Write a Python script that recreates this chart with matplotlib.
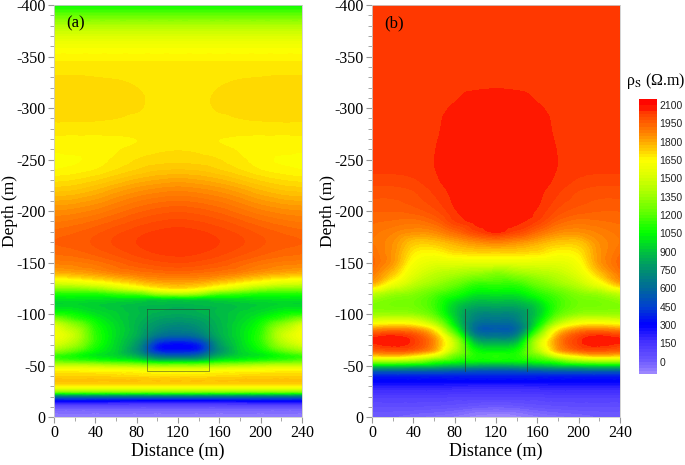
import numpy as np
import matplotlib.pyplot as plt
import matplotlib.tri as mtri
from matplotlib.colors import LinearSegmentedColormap

# half profile, mirrored about x = 120 m
x_half = [0, 20, 40, 60, 80, 100, 120]

# rho_s (Ohm.m) at each depth, columns at x_half
depth_a = [0, -5, -10, -15, -20, -25, -30, -35, -40, -45, -50, -55, -60, -65, -70, -75,
           -80, -90, -95, -100, -110, -115, -120, -125, -130, -140, -150, -160, -170,
           -180, -200, -220, -230, -240, -250, -260, -265, -270, -280, -290, -300, -310,
           -320, -330, -340, -345, -350, -360, -370, -380, -390, -400]
rho_a = [
    [-80, -80, -80, -80, -80, -80, -80],
    [-40, -40, -40, -40, -40, -40, -40],
    [30, 30, 30, 30, 30, 30, 30],
    [250, 250, 250, 240, 230, 220, 220],
    [600, 600, 600, 600, 600, 600, 600],
    [1300, 1300, 1300, 1300, 1300, 1300, 1300],
    [1650, 1650, 1650, 1650, 1650, 1650, 1650],
    [1750, 1750, 1750, 1750, 1750, 1750, 1750],
    [1720, 1720, 1720, 1710, 1700, 1690, 1690],
    [1650, 1650, 1640, 1630, 1620, 1600, 1600],
    [1450, 1450, 1420, 1380, 1350, 1300, 1300],
    [1200, 1150, 1100, 1050, 1000, 880, 860],
    [1150, 1080, 1000, 940, 820, 580, 520],
    [1350, 1220, 1050, 940, 740, 380, 340],
    [1500, 1350, 1100, 950, 760, 370, 310],
    [1580, 1420, 1130, 960, 800, 500, 430],
    [1620, 1450, 1130, 970, 840, 650, 600],
    [1500, 1300, 1080, 960, 860, 760, 720],
    [1300, 1150, 1030, 940, 870, 800, 780],
    [1100, 1050, 980, 930, 880, 840, 820],
    [950, 950, 930, 910, 890, 880, 870],
    [1000, 1000, 990, 980, 970, 960, 960],
    [1100, 1100, 1100, 1150, 1200, 1350, 1400],
    [1300, 1300, 1350, 1450, 1550, 1650, 1700],
    [1500, 1520, 1580, 1650, 1720, 1780, 1800],
    [1780, 1800, 1830, 1870, 1900, 1920, 1930],
    [1880, 1890, 1910, 1940, 1970, 1990, 2000],
    [1930, 1940, 1960, 1985, 2010, 2028, 2035],
    [1950, 1960, 1980, 2005, 2025, 2040, 2048],
    [1930, 1945, 1965, 1990, 2012, 2028, 2035],
    [1850, 1860, 1880, 1910, 1940, 1960, 1970],
    [1740, 1750, 1775, 1810, 1840, 1860, 1870],
    [1690, 1700, 1720, 1750, 1780, 1800, 1810],
    [1650, 1660, 1675, 1700, 1725, 1745, 1750],
    [1640, 1645, 1662, 1680, 1700, 1710, 1715],
    [1655, 1660, 1664, 1672, 1685, 1695, 1698],
    [1663, 1665, 1667, 1670, 1676, 1690, 1693],
    [1668, 1668, 1668, 1670, 1675, 1688, 1690],
    [1688, 1688, 1688, 1688, 1688, 1688, 1688],
    [1705, 1705, 1703, 1700, 1695, 1690, 1688],
    [1712, 1712, 1710, 1707, 1703, 1692, 1688],
    [1715, 1715, 1713, 1710, 1705, 1692, 1688],
    [1712, 1712, 1710, 1706, 1700, 1690, 1688],
    [1702, 1702, 1700, 1698, 1694, 1689, 1688],
    [1688, 1688, 1688, 1688, 1688, 1688, 1688],
    [1675, 1675, 1675, 1675, 1675, 1675, 1675],
    [1660, 1660, 1660, 1660, 1660, 1660, 1660],
    [1610, 1610, 1610, 1610, 1610, 1610, 1610],
    [1520, 1520, 1520, 1520, 1520, 1520, 1520],
    [1400, 1400, 1400, 1400, 1400, 1400, 1400],
    [1230, 1230, 1230, 1230, 1230, 1230, 1230],
    [1060, 1060, 1060, 1060, 1060, 1060, 1060],
]

depth_b = [0, -5, -10, -20, -30, -35, -40, -45, -50, -55, -60, -65, -70, -75, -80, -85,
           -90, -95, -100, -110, -120, -130, -140, -150, -160, -170, -180, -190, -200,
           -220, -240, -260, -280, -300, -310, -320, -340, -360, -380, -400]
rho_b = [
    [0, 0, -20, -40, -60, -90, -110],
    [20, 20, 10, 0, -20, -50, -60],
    [50, 50, 50, 40, 30, 10, 0],
    [110, 110, 110, 110, 100, 100, 100],
    [220, 220, 220, 220, 210, 200, 200],
    [300, 300, 300, 300, 300, 300, 300],
    [370, 370, 370, 370, 370, 370, 370],
    [560, 560, 560, 550, 530, 510, 500],
    [950, 950, 930, 900, 850, 820, 800],
    [1400, 1400, 1350, 1200, 1100, 1050, 1050],
    [1750, 1780, 1700, 1550, 1250, 1100, 1100],
    [1950, 1980, 1950, 1800, 1400, 1050, 1000],
    [2030, 2060, 2020, 1850, 1450, 950, 900],
    [2060, 2080, 2030, 1850, 1400, 820, 750],
    [2000, 2030, 1980, 1780, 1250, 680, 620],
    [1850, 1880, 1850, 1650, 1100, 600, 550],
    [1650, 1680, 1650, 1450, 1000, 620, 580],
    [1480, 1500, 1480, 1300, 950, 680, 650],
    [1350, 1350, 1330, 1200, 920, 720, 700],
    [1300, 1270, 1250, 1150, 950, 850, 850],
    [1450, 1350, 1300, 1200, 1100, 1000, 1000],
    [1800, 1600, 1450, 1350, 1250, 1150, 1150],
    [1900, 1750, 1550, 1450, 1400, 1350, 1300],
    [1940, 1830, 1620, 1550, 1550, 1550, 1550],
    [1920, 1840, 1680, 1650, 1700, 1720, 1720],
    [1900, 1850, 1750, 1750, 1800, 1850, 1880],
    [1910, 1880, 1850, 1860, 1930, 2010, 2058],
    [1930, 1920, 1910, 1940, 2020, 2060, 2070],
    [1950, 1950, 1960, 1990, 2045, 2075, 2080],
    [1990, 1990, 2000, 2030, 2060, 2080, 2085],
    [2030, 2030, 2035, 2048, 2075, 2085, 2090],
    [2035, 2035, 2035, 2048, 2075, 2085, 2090],
    [2035, 2035, 2035, 2042, 2070, 2085, 2090],
    [2035, 2035, 2035, 2038, 2056, 2080, 2085],
    [2035, 2035, 2035, 2036, 2045, 2065, 2070],
    [2035, 2035, 2035, 2035, 2038, 2045, 2048],
    [2035, 2035, 2035, 2035, 2035, 2035, 2035],
    [2035, 2035, 2035, 2035, 2035, 2035, 2035],
    [2035, 2035, 2035, 2035, 2035, 2035, 2035],
    [2035, 2035, 2035, 2035, 2035, 2035, 2035],
]

cbar_ticks = list(range(0, 2101, 150))
target_box = (90, 150, -105, -45)

# colour scale
anchors = [(-100, '#a08aff'), (0, '#6e5aff'), (150, '#4632ff'), (300, '#0000ff'),
           (450, '#0040d0'), (600, '#006a99'), (750, '#009070'), (900, '#00c040'),
           (1050, '#00ff00'), (1200, '#55ff00'), (1350, '#99ff00'), (1500, '#d5ff00'),
           (1650, '#ffff00'), (1800, '#ffaa00'), (1950, '#ff6000'), (2040, '#ff3c00'),
           (2075, '#ff1a00'), (2150, '#ff0000')]
vmin, vmax = anchors[0][0], anchors[-1][0]
cmap = LinearSegmentedColormap.from_list(
    'rho', [((v - vmin) / (vmax - vmin), c) for v, c in anchors])
levels = list(range(vmin, 2051, 25)) + [2100, 2150]


def full_field(rows):
    half = np.array(rows, dtype=float)
    return np.hstack([half, half[:, -2::-1]])


x_full = np.array(x_half + [240 - v for v in x_half[-2::-1]])

plt.rcParams['font.family'] = ['Liberation Serif', 'DejaVu Serif']
plt.rcParams['axes.unicode_minus'] = False
plt.rcParams['mathtext.fontset'] = 'stix'
fig = plt.figure(figsize=(6.85, 4.65), dpi=100)
ax_a = fig.add_axes([0.0788, 0.103, 0.362, 0.886])
ax_b = fig.add_axes([0.543, 0.103, 0.362, 0.886])

for ax, depth, rows, tag in [(ax_a, depth_a, rho_a, '(a)'), (ax_b, depth_b, rho_b, '(b)')]:
    xx, yy = np.meshgrid(x_full, depth)
    z = full_field(rows).ravel()
    tri = mtri.Triangulation(xx.ravel(), yy.ravel())
    interp = mtri.CubicTriInterpolator(tri, z, kind='geom')
    tri_f, z_f = mtri.UniformTriRefiner(tri).refine_field(z, triinterpolator=interp, subdiv=3)
    z_f = np.clip(z_f, vmin + 1, vmax - 1)
    cf = ax.tricontourf(tri_f, z_f, levels=levels, cmap=cmap, vmin=vmin, vmax=vmax)
    ax.set_xlim(0, 240)
    ax.set_ylim(0, -400)
    ax.set_xticks(range(0, 241, 40))
    ax.set_xticks(range(20, 240, 40), minor=True)
    ax.set_yticks(range(0, -401, -50))
    ax.set_yticks(range(0, -401, -10), minor=True)
    ax.tick_params(which='both', direction='out', color='#999999', labelsize=11.5,
                   top=False, right=False, pad=2)
    ax.tick_params(which='major', length=4)
    ax.tick_params(which='minor', length=3)
    for s in ax.spines.values():
        s.set_color('#cccccc')
        s.set_linewidth(0.6)
    ax.set_xlabel('Distance (m)', fontsize=13, labelpad=1)
    ax.set_ylabel('Depth (m)', fontsize=12.5, va='center')
    ax.yaxis.set_label_coords(-0.178, 0.5)
    ax.text(0.05, 0.975, tag, transform=ax.transAxes, fontsize=12, va='top', ha='left')

x0, x1, y0, y1 = target_box
ax_a.plot([x0, x1, x1, x0, x0], [y0, y0, y1, y1, y0], color='#333333', lw=0.5, alpha=0.7)
ax_b.plot([x0, x0], [y0, y1], color='#333333', lw=0.6, alpha=0.8)
ax_b.plot([x1, x1], [y0, y1], color='#333333', lw=0.6, alpha=0.8)

cax = fig.add_axes([0.933, 0.196, 0.026, 0.591])
cb = fig.colorbar(cf, cax=cax, ticks=cbar_ticks, spacing='proportional')
cb.outline.set_visible(False)
cax.tick_params(length=0, labelsize=7.5, pad=2, colors='#222222')
for lab in cax.get_yticklabels():
    lab.set_family(['Liberation Sans', 'DejaVu Sans'])
fig.text(0.957, 0.805, r'ρ$_\mathrm{S}$ (Ω.m)', ha='center', va='bottom', fontsize=11.5)

fig.savefig('out.png', dpi=100)
